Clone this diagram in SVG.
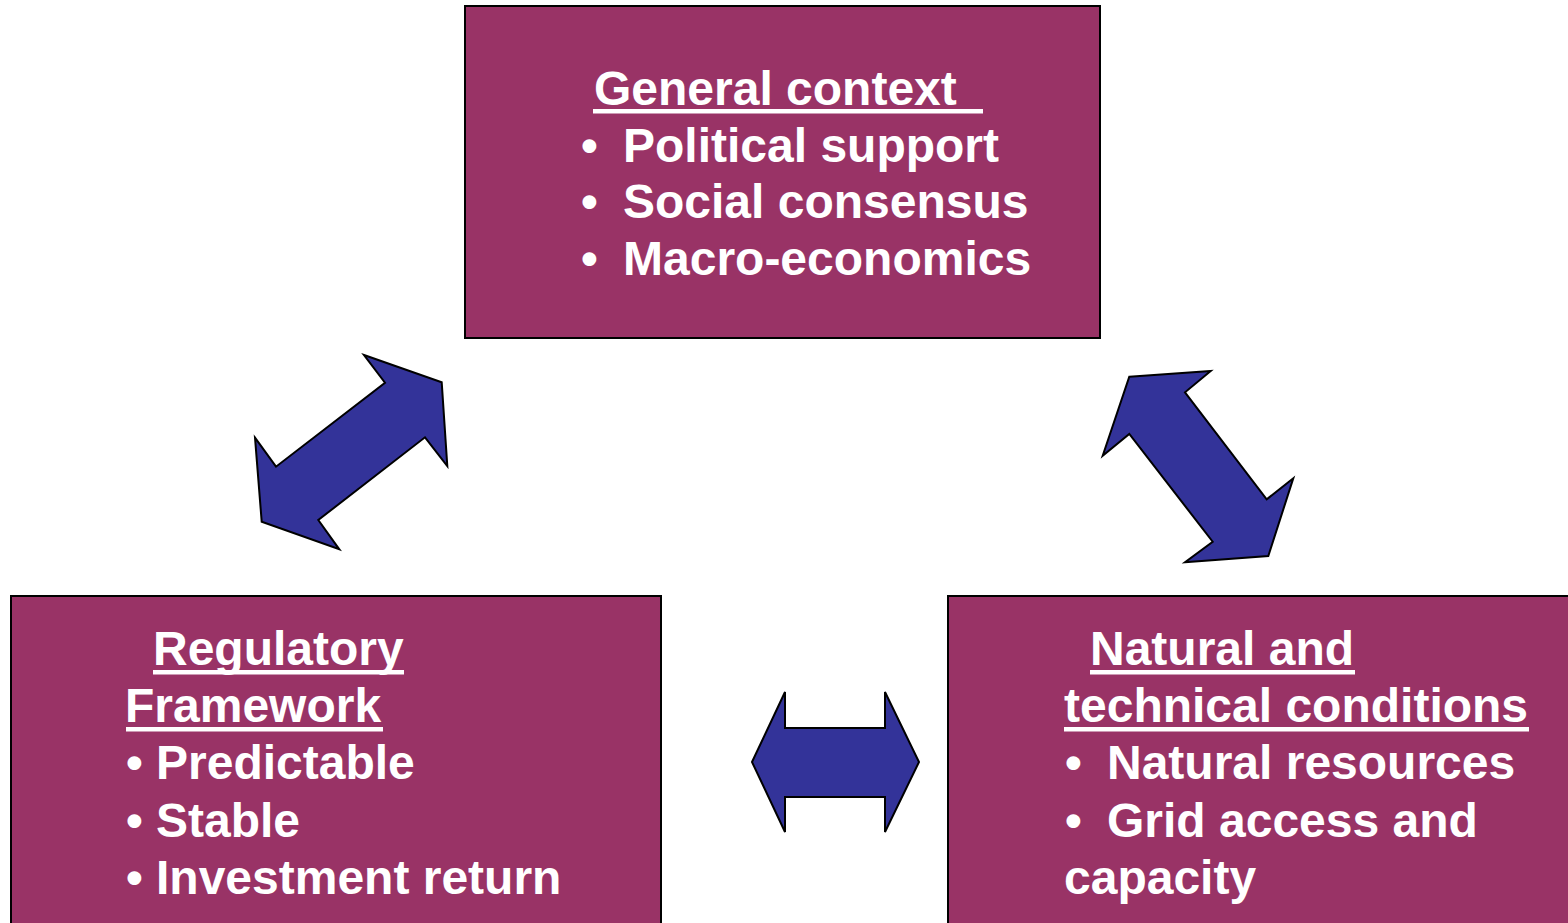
<svg xmlns="http://www.w3.org/2000/svg" width="1568" height="923" viewBox="0 0 1568 923">
<style>
.box{fill:#993366;stroke:#000;stroke-width:2}
.arr{fill:#333399;stroke:#000;stroke-width:2;stroke-linejoin:miter}
.t{font-family:"Liberation Sans",Arial,sans-serif;font-weight:bold;font-size:48px;fill:#fff}
.ul{fill:#fff}
</style>
<rect width="1568" height="923" fill="#fff"/>
<g id="connectors">
<polygon class="arr" points="364,355 441.7,382.3 447.3,466 425,437.3 318.3,520 339.3,549.3 261.7,521.7 255,437.7 276,466.7 385,382.7"/>
<polygon class="arr" points="1129.3,376.7 1210.7,371 1185,392.3 1266.7,499.3 1293.3,478.3 1268.3,556 1185,562.3 1212.7,541.7 1129.3,434 1102.7,455.7"/>
<polygon class="arr" points="752,762 785,692 785,728 885,728 885,692 919,762 885,832 885,797 785,797 785,832"/>
</g>
<g id="general-context">
<rect class="box" x="465" y="6" width="635" height="332"/>
<text class="t" x="594" y="105">General context</text>
<rect class="ul" x="593" y="109" width="390" height="4.5"/>
<text class="t" x="581" y="162">•</text><text class="t" x="623" y="162">Political support</text>
<text class="t" x="581" y="218">•</text><text class="t" x="623" y="218">Social consensus</text>
<text class="t" x="581" y="275">•</text><text class="t" x="623" y="275">Macro-economics</text>
</g>
<g id="regulatory-framework">
<rect class="box" x="11" y="596" width="650" height="340"/>
<text class="t" x="153" y="665">Regulatory</text>
<rect class="ul" x="153" y="670" width="251" height="4.5"/>
<text class="t" x="125" y="722">Framework</text>
<rect class="ul" x="126" y="727" width="257" height="4.5"/>
<text class="t" x="126" y="779">•</text><text class="t" x="156" y="779">Predictable</text>
<text class="t" x="126" y="837">•</text><text class="t" x="156" y="837">Stable</text>
<text class="t" x="126" y="894">•</text><text class="t" x="156" y="894">Investment return</text>
</g>
<g id="natural-technical">
<rect class="box" x="948" y="596" width="640" height="340"/>
<text class="t" x="1090" y="665">Natural and</text>
<rect class="ul" x="1090" y="670" width="265" height="4.5"/>
<text class="t" x="1064" y="722">technical conditions</text>
<rect class="ul" x="1064" y="727" width="465" height="4.5"/>
<text class="t" x="1065" y="779">•</text><text class="t" x="1107" y="779">Natural resources</text>
<text class="t" x="1065" y="837">•</text><text class="t" x="1107" y="837">Grid access and</text>
<text class="t" x="1064" y="894">capacity</text>
</g>
</svg>
